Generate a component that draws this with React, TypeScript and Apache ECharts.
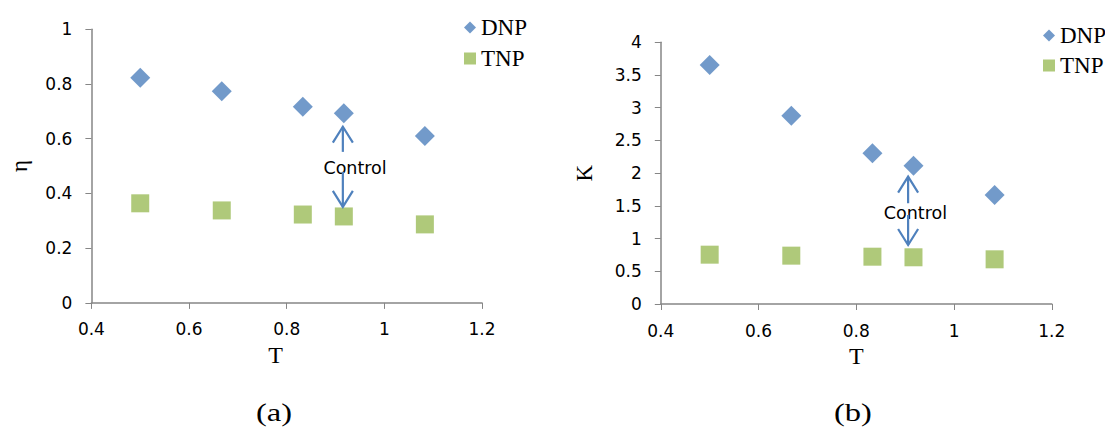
import React, { useEffect, useRef } from "react";
import * as echarts from "echarts";

const T = [0.5, 0.667, 0.833, 0.917, 1.083];
const etaDNP = [0.823, 0.774, 0.717, 0.693, 0.61];
const etaTNP = [0.364, 0.338, 0.323, 0.316, 0.287];
const kDNP = [3.654, 2.879, 2.304, 2.115, 1.667];
const kTNP = [0.754, 0.739, 0.723, 0.714, 0.683];

// annotation arrows: [x, upTail, upTip, downTail, downTip, labelX, labelY]
const controlA = [0.915, 0.552, 0.644, 0.479, 0.351, 0.94, 0.492];
const controlB = [0.906, 1.54, 1.946, 1.36, 0.902, 0.921, 1.387];

const seriesNames = ["DNP", "TNP"];
const panelLabels = ["(a)", "(b)"];
const yNames = ["η", "K"];
const xName = "T";

const BLUE = "#4F81BD";
const GREEN = "#9BBB59";
const AXIS = "#868686";
const SANS = "'DejaVu Sans', 'Liberation Sans', sans-serif";
const SERIF = "'Liberation Serif', 'Times New Roman', serif";

function zip(xs: number[], ys: number[]) {
  return xs.map((x, i) => [x, ys[i]]);
}

function renderArrows(params: any, api: any) {
  const x = api.value(0);
  const u0 = api.coord([x, api.value(1)]);
  const u1 = api.coord([x, api.value(2)]);
  const d0 = api.coord([x, api.value(3)]);
  const d1 = api.coord([x, api.value(4)]);
  const lb = api.coord([api.value(5), api.value(6)]);
  const style = { stroke: BLUE, lineWidth: 2.2, fill: "none" };
  const hw = 10;
  const hl = 16;
  return {
    type: "group",
    children: [
      {
        type: "text",
        x: lb[0],
        y: lb[1],
        style: {
          text: "Control",
          fill: "#000",
          font: `17.5px ${SANS}`,
          align: "center",
          verticalAlign: "middle",
        },
      },
      { type: "line", shape: { x1: u0[0], y1: u0[1], x2: u1[0], y2: u1[1] }, style },
      {
        type: "polyline",
        shape: { points: [[u1[0] - hw, u1[1] + hl], [u1[0], u1[1]], [u1[0] + hw, u1[1] + hl]] },
        style,
      },
      { type: "line", shape: { x1: d0[0], y1: d0[1], x2: d1[0], y2: d1[1] }, style },
      {
        type: "polyline",
        shape: { points: [[d1[0] - hw, d1[1] - hl], [d1[0], d1[1]], [d1[0] + hw, d1[1] - hl]] },
        style,
      },
    ],
  };
}

function xAxisCfg(gridIndex: number, namePad: number[]) {
  return {
    gridIndex,
    type: "value",
    min: 0.4,
    max: 1.2,
    interval: 0.2,
    name: xName,
    nameLocation: "middle",
    nameGap: 35,
    nameTextStyle: { fontFamily: SERIF, fontSize: 24, color: "#000", padding: namePad },
    axisLine: { show: true, onZero: false, lineStyle: { color: AXIS, width: 1.5 } },
    axisTick: { show: true, inside: false, length: 6, lineStyle: { color: AXIS } },
    axisLabel: { margin: 18, fontFamily: SANS, fontSize: 17, color: "#000" },
    splitLine: { show: false },
  };
}

function yAxisCfg(gridIndex: number, max: number, interval: number, name: string, gap: number) {
  return {
    gridIndex,
    type: "value",
    min: 0,
    max,
    interval,
    name,
    nameLocation: "middle",
    nameGap: gap,
    nameTextStyle: { fontFamily: SERIF, fontSize: 23, color: "#000" },
    axisLine: { show: true, onZero: false, lineStyle: { color: AXIS, width: 1.5 } },
    axisTick: { show: true, inside: false, length: 6, lineStyle: { color: AXIS } },
    axisLabel: { margin: 19, fontFamily: SANS, fontSize: 17, color: "#000" },
    splitLine: { show: false },
  };
}

function legendCfg(left: number, top: number, gap: number) {
  return {
    left,
    top,
    orient: "vertical",
    itemWidth: 12,
    itemHeight: 12,
    itemGap: gap,
    textStyle: { fontFamily: SERIF, fontSize: 23, color: "#000" },
    data: [
      { name: seriesNames[0], icon: "diamond" },
      { name: seriesNames[1], icon: "rect" },
    ],
  };
}

export default function App() {
  const ref = useRef<HTMLDivElement>(null);
  useEffect(() => {
    document.body.style.margin = "0";
    if (!ref.current) return;
    const chart = echarts.init(ref.current, null, { renderer: "svg" });
    chart.setOption({
      animation: false,
      backgroundColor: "#fff",
      grid: [
        { left: 91.4, top: 29.3, width: 390.6, height: 273.6 },
        { left: 660.8, top: 42.3, width: 391, height: 261.7 },
      ],
      xAxis: [xAxisCfg(0, [0, 22, 0, 0]), xAxisCfg(1, [0, 0, 0, 0])],
      yAxis: [yAxisCfg(0, 1, 0.2, yNames[0], 60), yAxisCfg(1, 4, 0.5, yNames[1], 65)],
      legend: [legendCfg(459, 11, 8), legendCfg(1038, 19, 7)],
      graphic: [
        {
          type: "text",
          x: 274,
          y: 412,
          scaleX: 1.25,
          style: { text: panelLabels[0], font: `26px ${SERIF}`, fill: "#000", align: "center", verticalAlign: "middle" },
        },
        {
          type: "text",
          x: 853,
          y: 412,
          scaleX: 1.25,
          style: { text: panelLabels[1], font: `26px ${SERIF}`, fill: "#000", align: "center", verticalAlign: "middle" },
        },
      ],
      series: [
        {
          name: seriesNames[0],
          type: "scatter",
          xAxisIndex: 0,
          yAxisIndex: 0,
          symbol: "diamond",
          symbolSize: 20,
          itemStyle: { color: BLUE },
          data: zip(T, etaDNP),
        },
        {
          name: seriesNames[1],
          type: "scatter",
          xAxisIndex: 0,
          yAxisIndex: 0,
          symbol: "rect",
          symbolSize: 18,
          itemStyle: { color: GREEN },
          data: zip(T, etaTNP),
        },
        {
          name: seriesNames[0],
          type: "scatter",
          xAxisIndex: 1,
          yAxisIndex: 1,
          symbol: "diamond",
          symbolSize: 20,
          itemStyle: { color: BLUE },
          data: zip(T, kDNP),
        },
        {
          name: seriesNames[1],
          type: "scatter",
          xAxisIndex: 1,
          yAxisIndex: 1,
          symbol: "rect",
          symbolSize: 18,
          itemStyle: { color: GREEN },
          data: zip(T, kTNP),
        },
        {
          type: "custom",
          xAxisIndex: 0,
          yAxisIndex: 0,
          silent: true,
          clip: false,
          renderItem: renderArrows,
          data: [controlA],
          z: 5,
        },
        {
          type: "custom",
          xAxisIndex: 1,
          yAxisIndex: 1,
          silent: true,
          clip: false,
          renderItem: renderArrows,
          data: [controlB],
          z: 5,
        },
      ],
    });
    return () => chart.dispose();
  }, []);
  return <div ref={ref} style={{ width: 1105, height: 430 }} />;
}
